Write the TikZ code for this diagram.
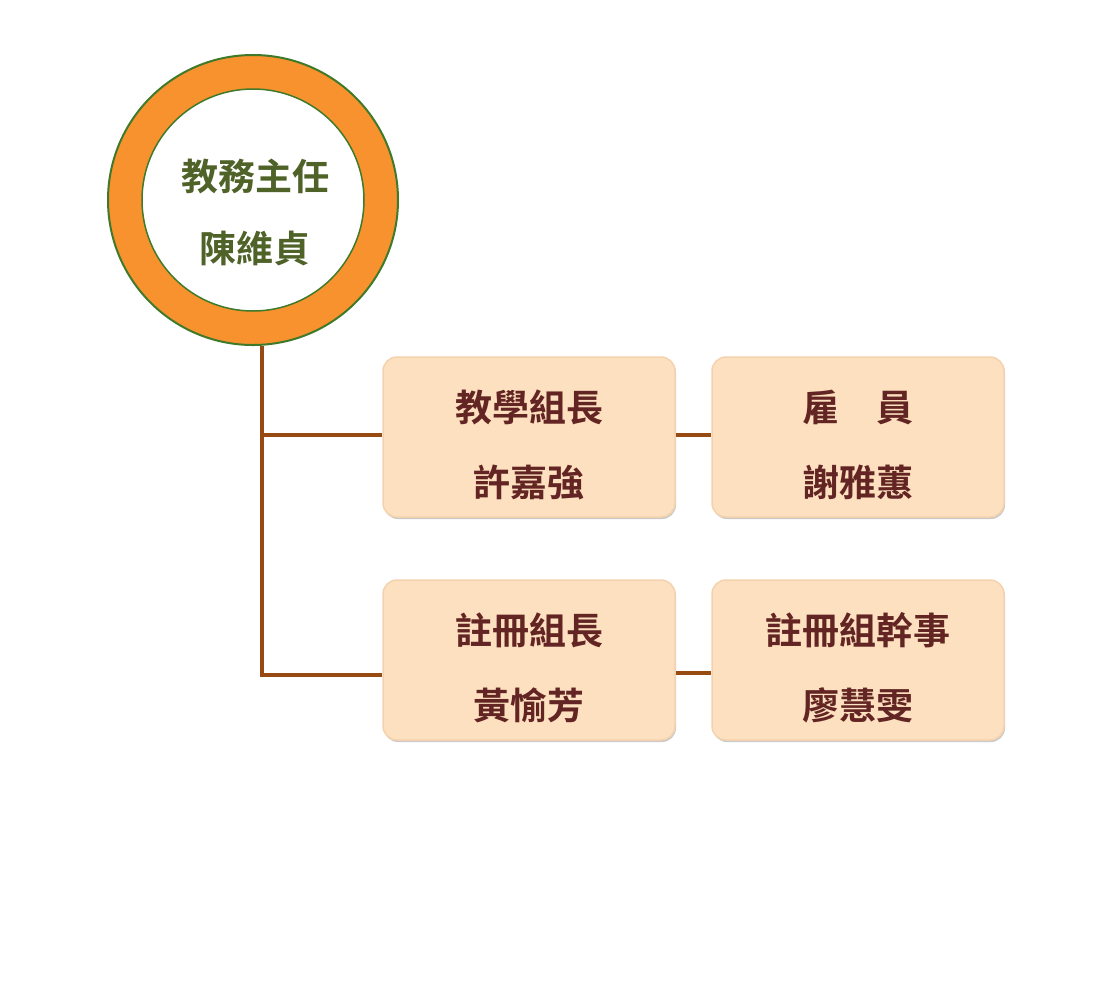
\documentclass[tikz,border=0pt]{standalone}
\usepackage{fontspec}
\newfontfamily\cjk{Noto Sans CJK TC}[BoldFont={* Bold}]
\usetikzlibrary{shadows}
\definecolor{ringorange}{HTML}{F7922E}
\definecolor{ringgreen}{HTML}{3F7A2A}
\definecolor{olivetext}{HTML}{4F6228}
\definecolor{marontext}{HTML}{632523}
\definecolor{boxfill}{HTML}{FDE0BF}
\definecolor{boxedge}{HTML}{F5D2AE}
\definecolor{linkbrown}{HTML}{974A12}
\tikzset{
  ring/.style={circle, draw=ringgreen, line width=2pt, fill=ringorange, minimum size=290pt, inner sep=0pt},
  ringin/.style={circle, draw=ringgreen, line width=1.5pt, fill=white, minimum size=222pt, inner sep=0pt},
  ringtext/.style={align=center, inner sep=0pt,
     font=\cjk\bfseries\fontsize{37}{72}\selectfont, text=olivetext},
  orgbox/.style={rectangle, rounded corners=14pt, draw=boxedge, line width=1.5pt, fill=boxfill,
     minimum width=292pt, minimum height=160pt, inner sep=0pt,
     drop shadow={shadow xshift=1pt, shadow yshift=-2pt, fill=black!35, opacity=0.6}},
  boxtext/.style={align=center, inner sep=0pt,
     font=\cjk\bfseries\fontsize{37}{75}\selectfont, text=marontext},
  link/.style={draw=linkbrown, line width=4pt}
}
\begin{document}
\begin{tikzpicture}[x=1pt,y=-1pt]
\useasboundingbox (0,0) rectangle (1113,989);
\fill[white] (0,0) rectangle (1113,989);
\node[ring] (ring) at (253,200) {};
\node[ringin] (head) at (253,200) {};
\node[ringtext] (headtxt) at (255,212) {教務主任\\陳維貞};
\node[orgbox] (b1) at (529,437) {};
\node[orgbox] (b2) at (858,437) {};
\node[orgbox] (b3) at (529,660) {};
\node[orgbox] (b4) at (858,660) {};
\node[boxtext] (t1) at (b1.center) [yshift=-7.5pt] {教學組長\\許嘉強};
\node[boxtext] (t2) at (b2.center) [yshift=-7.5pt] {雇\quad 員\\謝雅蕙};
\node[boxtext] (t3) at (b3.center) [yshift=-7.5pt] {註冊組長\\黃愉芳};
\node[boxtext] (t4) at (b4.center) [yshift=-7.5pt] {註冊組幹事\\廖慧雯};
\coordinate (trunk) at (262,675);
\path[link] (ring.south -| trunk) -- (trunk) -- (b3.west |- trunk);
\path[link] (trunk |- 0,435) -- (b1.west |- 0,435);
\path[link] (b1.east |- 0,435) -- (b2.west |- 0,435);
\path[link] (b3.east |- 0,673) -- (b4.west |- 0,673);
\end{tikzpicture}
\end{document}
